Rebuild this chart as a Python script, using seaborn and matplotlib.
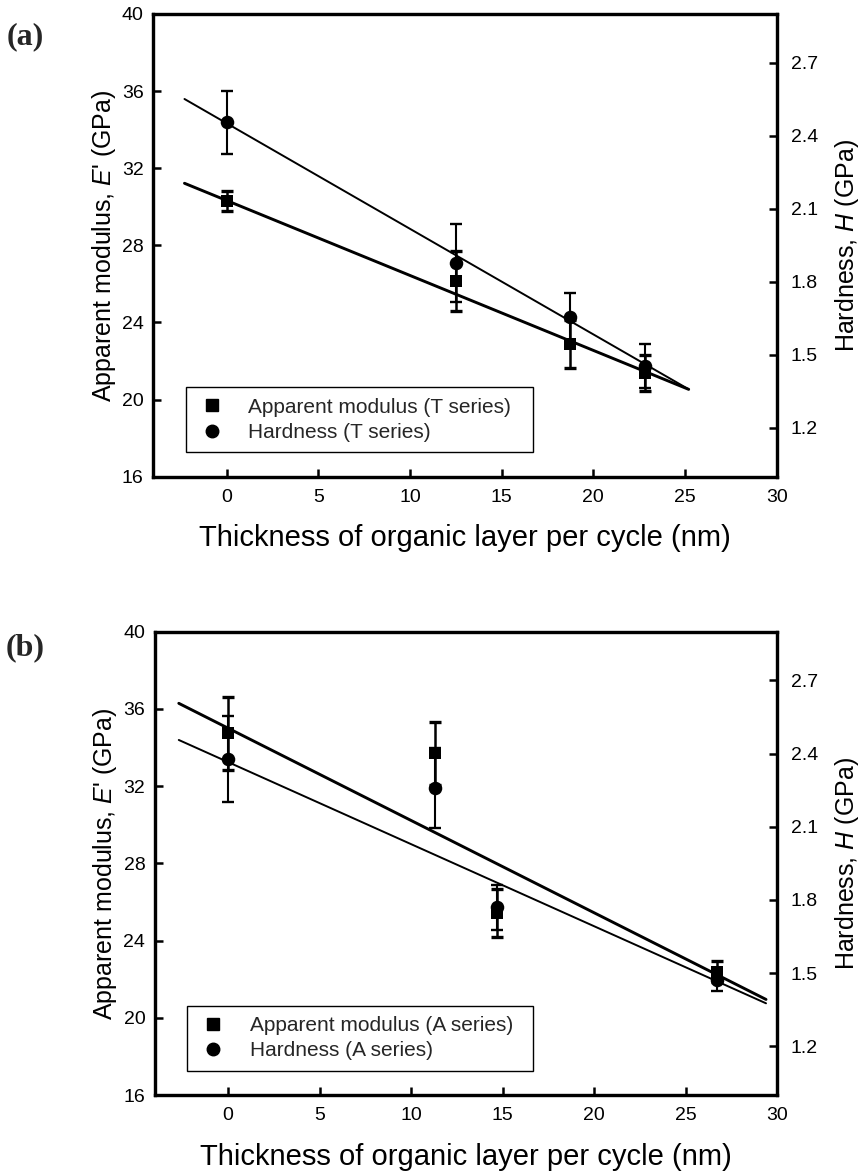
import numpy as np
import pandas as pd
import matplotlib
matplotlib.use("Agg")
import matplotlib.pyplot as plt
import seaborn as sns
from matplotlib.lines import Line2D

# ---------------- data ----------------
a_x = [0.0, 12.5, 18.7, 22.8]
a_E = [30.30, 26.15, 22.88, 21.36]
a_E_err = [0.50, 1.55, 1.26, 0.93]
a_H = [2.455, 1.876, 1.654, 1.456]
a_H_err = [0.13, 0.16, 0.10, 0.09]
a_fit_x = [-2.3, 25.2]
a_fit_E = [31.22, 20.53]
a_fit_H = [2.551, 1.359]

b_x = [0.0, 11.3, 14.7, 26.7]
b_E = [34.74, 33.70, 25.44, 22.38]
b_E_err = [1.90, 1.64, 1.23, 0.55]
b_H = [2.377, 2.258, 1.770, 1.472]
b_H_err = [0.176, 0.164, 0.093, 0.045]
b_fit_x = [-2.7, 29.4]
b_fit_E = [36.29, 20.95]
b_fit_H = [2.456, 1.376]

x_ticks = [0, 5, 10, 15, 20, 25, 30]
E_ticks = [16, 20, 24, 28, 32, 36, 40]
H_ticks = [1.2, 1.5, 1.8, 2.1, 2.4, 2.7]

panels = [
    dict(tag="(a)", series="T", x=a_x, E=a_E, Ee=a_E_err, H=a_H, He=a_H_err,
         fx=a_fit_x, fE=a_fit_E, fH=a_fit_H),
    dict(tag="(b)", series="A", x=b_x, E=b_E, Ee=b_E_err, H=b_H, He=b_H_err,
         fx=b_fit_x, fE=b_fit_E, fH=b_fit_H),
]

# ---------------- style ----------------
sns.set_theme(style="white")
plt.rcParams["font.family"] = ["Liberation Sans", "DejaVu Sans"]
plt.rcParams["mathtext.fontset"] = "custom"
plt.rcParams["mathtext.it"] = "Liberation Sans:italic"
plt.rcParams["mathtext.rm"] = "Liberation Sans"

W, H = 862, 1176
fig = plt.figure(figsize=(W / 100, H / 100), dpi=100)

# axes rectangles in pixels: left, top, right, bottom
rects = [(153.3, 14.0, 776.7, 476.7), (155.0, 631.7, 777.0, 1095.0)]
tag_pos = [(25, 37), (25, 648)]

for p, (l, t, r, b), (tx, ty) in zip(panels, rects, tag_pos):
    ax = fig.add_axes([l / W, 1 - b / H, (r - l) / W, (b - t) / H])
    ax2 = ax.twinx()

    dE = pd.DataFrame({"x": p["x"], "E": p["E"]})
    dH = pd.DataFrame({"x": p["x"], "H": p["H"]})
    fE = pd.DataFrame({"x": p["fx"], "E": p["fE"]})
    fH = pd.DataFrame({"x": p["fx"], "H": p["fH"]})

    # fit lines
    sns.lineplot(data=fE, x="x", y="E", ax=ax, color="black", lw=2.1, zorder=2)
    sns.lineplot(data=fH, x="x", y="H", ax=ax2, color="black", lw=1.4, zorder=2)

    # error bars
    ax.errorbar(p["x"], p["E"], yerr=p["Ee"], fmt="none", ecolor="black",
                elinewidth=1.8, capsize=4.5, capthick=2.4, zorder=3)
    ax2.errorbar(p["x"], p["H"], yerr=p["He"], fmt="none", ecolor="black",
                 elinewidth=1.5, capsize=4.5, capthick=1.7, zorder=3)

    # markers
    sns.scatterplot(data=dE, x="x", y="E", ax=ax, marker="s", s=85,
                    color="black", edgecolor="black", linewidth=0, zorder=4)
    sns.scatterplot(data=dH, x="x", y="H", ax=ax2, marker="o", s=95,
                    color="black", edgecolor="black", linewidth=0, zorder=4)

    ax.set_xlim(-4, 30)
    ax.set_ylim(16, 40)
    ax2.set_ylim(1.0, 2.9)
    ax.set_xticks(x_ticks)
    ax.set_yticks(E_ticks)
    ax2.set_yticks(H_ticks)
    ax2.set_yticklabels([f"{v:.1f}" for v in H_ticks])

    for a in (ax, ax2):
        for s in a.spines.values():
            s.set_linewidth(2.3)
            s.set_color("black")
        a.tick_params(direction="in", length=6, width=1.8, labelsize=14,
                      colors="black")
    ax.tick_params(axis="x", top=False, bottom=True, pad=9)
    ax.tick_params(axis="y", left=True, right=False, pad=7)
    ax2.tick_params(axis="y", right=True, left=False, pad=10)

    ax.set_xlabel("Thickness of organic layer per cycle (nm)", fontsize=21,
                  labelpad=13, color="black")
    ax.set_ylabel("Apparent modulus, $E$' (GPa)", fontsize=18, labelpad=3,
                  color="black")
    ax2.set_ylabel("Hardness, $H$ (GPa)", fontsize=18, labelpad=11,
                   color="black")

    # legend
    handles = [
        Line2D([], [], ls="none", marker="s", ms=8, color="black"),
        Line2D([], [], ls="none", marker="o", ms=9, color="black"),
    ]
    labels = [f"Apparent modulus ({p['series']} series)",
              f"Hardness ({p['series']} series)"]
    leg = ax.legend(handles, labels, loc="lower left",
                    bbox_to_anchor=(0.035, 0.03, 0.59, 0.14), mode="expand",
                    fontsize=15, frameon=True, fancybox=False, framealpha=1,
                    edgecolor="black", borderpad=0.5, labelspacing=0.3,
                    handletextpad=1.0, handlelength=1.5)
    leg.get_frame().set_linewidth(1.0)
    leg.set_zorder(10)
    ax.set_zorder(ax2.get_zorder() + 1)
    ax.patch.set_visible(False)

    fig.text(tx / W, 1 - ty / H, p["tag"], fontsize=23, fontweight="bold",
             family="Liberation Serif", ha="center", va="center")

fig.savefig("out.png", dpi=100)
